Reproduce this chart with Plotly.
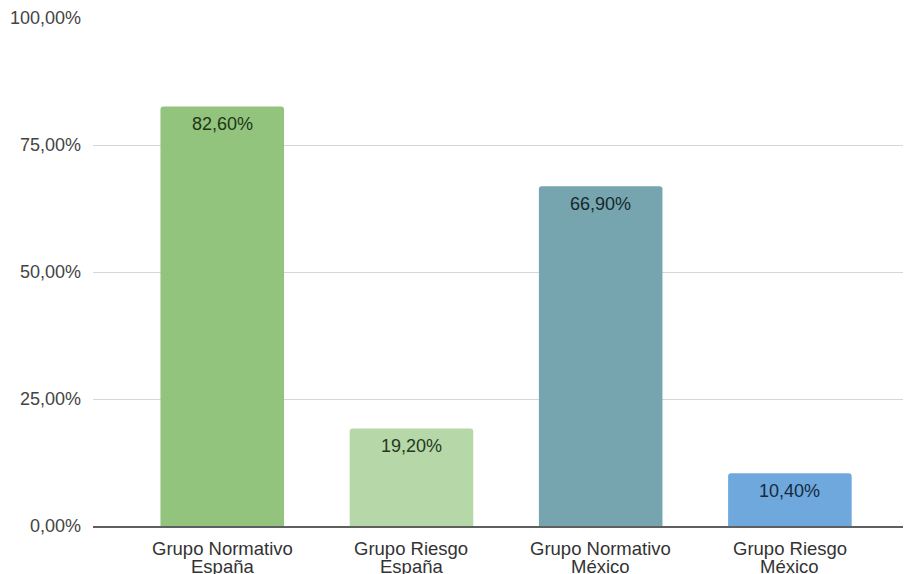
import plotly.graph_objects as go

categories = ["Grupo Normativo<br>España", "Grupo Riesgo<br>España",
              "Grupo Normativo<br>México", "Grupo Riesgo<br>México"]
values = [82.6, 19.2, 66.9, 10.4]
bar_colors = ["#93c47d", "#b6d7a8", "#76a5af", "#6fa8dc"]
label_colors = ["#1e3518", "#24391d", "#15292d", "#142a40"]
y_ticks = [0, 25, 50, 75, 100]
y_ticktext = [f"{t:.2f}".replace(".", ",") + "%" for t in y_ticks]

fig = go.Figure()
fig.add_trace(go.Bar(
    x=categories, y=values,
    marker=dict(color=bar_colors, line=dict(width=0)),
    width=0.653,
    hoverinfo="skip",
))

annotations = []
for c, v, lc in zip(categories, values, label_colors):
    annotations.append(dict(
        x=c, y=v, xref="x", yref="y", yanchor="middle", xanchor="center",
        yshift=-18, showarrow=False,
        text=f"{v:.2f}".replace(".", ",") + "%",
        font=dict(family="Liberation Sans, Arial", size=18, color=lc),
    ))
    lines = c.split("<br>")
    for i, ln in enumerate(lines):
        annotations.append(dict(
            x=c, y=0, xref="x", yref="paper", yanchor="middle", xanchor="center",
            yshift=-22 - 18 * i, showarrow=False, text=ln,
            font=dict(family="Liberation Sans, Arial", size=18.5, color="#333333"),
        ))

fig.update_layout(
    width=903, height=566,
    margin=dict(l=85, r=0, t=10, b=48),
    paper_bgcolor="white", plot_bgcolor="white",
    barcornerradius=3,
    showlegend=False,
    annotations=annotations,
    xaxis=dict(
        type="category", range=[-0.683, 3.64],
        showticklabels=False, showgrid=False, zeroline=False,
        showline=True, linecolor="#5f5f5f", linewidth=2,
        ticks="",
    ),
    yaxis=dict(
        range=[0, 100], tickvals=y_ticks, ticktext=y_ticktext,
        showgrid=True, gridcolor="#d6d6d6", gridwidth=1,
        zeroline=False, showline=False, ticks="",
        ticklabelstandoff=11,
        tickfont=dict(family="Liberation Sans, Arial", size=18, color="#444444"),
    ),
)

fig.write_html("out.html")
